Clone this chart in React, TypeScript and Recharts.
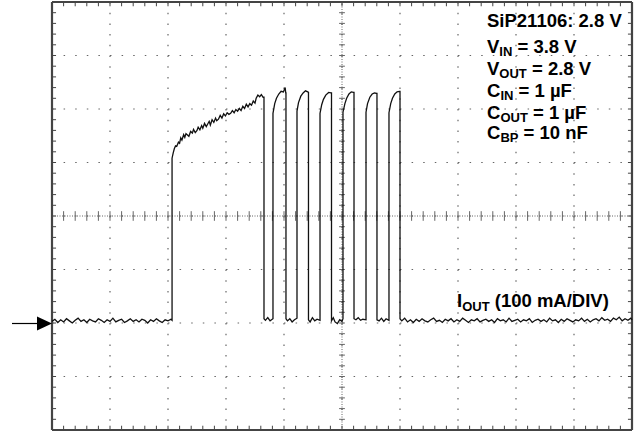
import React from 'react';
import { LineChart, Line, XAxis, YAxis, CartesianGrid, ReferenceLine } from 'recharts';

// time in scope divisions, current in mA (100 mA/div, 0 mA at the arrow)
const idleBefore: [number, number][] = [
  [0, 3], [0.05, 7], [0.1, 1], [0.15, 6], [0.2, 2], [0.25, 8], [0.3, 4], [0.35, 0], [0.4, 5], [0.45, 9],
  [0.5, 3], [0.55, 6], [0.6, 1], [0.65, 7], [0.7, 4], [0.75, 2], [0.8, 8], [0.85, 5], [0.9, 1], [0.95, 6],
  [1.0, 3], [1.05, 9], [1.1, 2], [1.15, 5], [1.2, 7], [1.25, 1], [1.3, 4], [1.35, 8], [1.4, 3], [1.45, 6],
  [1.5, 2], [1.55, 7], [1.6, 5], [1.65, 0], [1.7, 6], [1.75, 3], [1.8, 8], [1.85, 4], [1.9, 1], [1.95, 6],
  [2.0, 4], [2.05, 7], [2.07, 5],
];

const rampPulse: [number, number][] = [
  [2.07, 308], [2.09, 318], [2.11, 326], [2.13, 331], [2.15, 330], [2.18, 338], [2.2, 336], [2.22, 346],
  [2.24, 342], [2.27, 352], [2.29, 347], [2.31, 354], [2.34, 351], [2.36, 349], [2.39, 358], [2.42, 355],
  [2.44, 362], [2.47, 356], [2.5, 360], [2.52, 366], [2.55, 361], [2.58, 369], [2.6, 364], [2.63, 373],
  [2.66, 367], [2.68, 371], [2.71, 377], [2.73, 370], [2.76, 380], [2.79, 375], [2.82, 383], [2.84, 378],
  [2.87, 381], [2.9, 388], [2.93, 383], [2.96, 391], [2.99, 387], [3.02, 393], [3.05, 390], [3.08, 392],
  [3.11, 397], [3.14, 393], [3.17, 399], [3.2, 396], [3.23, 401], [3.26, 397], [3.29, 405], [3.32, 401],
  [3.35, 409], [3.38, 404], [3.41, 410], [3.44, 407], [3.47, 415], [3.5, 411], [3.52, 420], [3.55, 426],
  [3.58, 423], [3.61, 427], [3.64, 422], [3.655, 422], [3.655, 8],
];

const pulseTrain: [number, number][] = [
  [3.68, 5], [3.72, 10], [3.76, 4], [3.81, 8],
  [3.81, 392], [3.84, 410], [3.87, 420], [3.91, 428], [3.95, 433], [3.99, 432], [4.02, 440], [4.03, 430], [4.034, 430], [4.034, 8],
  [4.06, 4], [4.1, 8], [4.14, 2], [4.18, 6], [4.224, 9],
  [4.224, 396], [4.25, 412], [4.29, 424], [4.33, 430], [4.37, 434], [4.41, 432], [4.422, 431], [4.422, 6],
  [4.45, 2], [4.49, 10], [4.53, 4], [4.57, 7], [4.621, 5],
  [4.621, 392], [4.65, 408], [4.68, 418], [4.72, 426], [4.77, 431], [4.81, 430], [4.819, 430], [4.819, 4],
  [4.85, 10], [4.88, 2], [4.92, -1], [4.96, 6], [5.0, 3], [5.017, 8],
  [5.017, 394], [5.05, 410], [5.08, 420], [5.12, 428], [5.16, 432], [5.2, 431], [5.207, 431], [5.207, 8],
  [5.24, 6], [5.28, 10], [5.32, 5], [5.36, 7], [5.414, 6],
  [5.414, 394], [5.44, 410], [5.48, 422], [5.52, 428], [5.56, 430], [5.6, 429], [5.603, 429], [5.603, 6],
  [5.64, 4], [5.68, 9], [5.72, 3], [5.76, 8], [5.81, 5],
  [5.81, 393], [5.84, 410], [5.87, 420], [5.91, 428], [5.95, 432], [5.99, 433], [6.0, 433], [6.0, 8],
];

const idleAfter: [number, number][] = [
  [6.03, 4], [6.08, 9], [6.13, 2], [6.18, 6], [6.23, 1], [6.28, 7], [6.33, 3], [6.38, 8], [6.43, 4], [6.48, 2],
  [6.53, 6], [6.58, 9], [6.63, 3], [6.68, 5], [6.73, 1], [6.78, 7], [6.83, 4], [6.88, 8], [6.93, 2], [6.98, 6],
  [7.03, 3], [7.08, 9], [7.13, 5], [7.18, 1], [7.23, 6], [7.28, 4], [7.33, 8], [7.38, 2], [7.43, 5], [7.48, 7],
  [7.53, 3], [7.58, 6], [7.63, 1], [7.68, 8], [7.73, 4], [7.78, 6], [7.83, 2], [7.88, 9], [7.93, 3], [7.98, 5],
  [8.03, 7], [8.08, 2], [8.13, 6], [8.18, 4], [8.23, 8], [8.28, 1], [8.33, 5], [8.38, 7], [8.43, 3], [8.48, 6],
  [8.53, 2], [8.58, 9], [8.63, 4], [8.68, 6], [8.73, 1], [8.78, 7], [8.83, 3], [8.88, 8], [8.93, 5], [8.98, 2],
  [9.03, 6], [9.08, 4], [9.13, 9], [9.18, 3], [9.23, 7], [9.28, 2], [9.33, 6], [9.38, 8], [9.43, 4], [9.48, 10],
  [9.53, 5], [9.58, 7], [9.63, 3], [9.68, 9], [9.73, 6], [9.78, 11], [9.83, 4], [9.88, 8], [9.93, 5], [9.98, 9],
  [10, 6],
];

const majorX = [0, 1, 2, 3, 4, 5, 6, 7, 8, 9, 10];
const majorY = [-200, -100, 0, 100, 200, 300, 400, 500, 600];
const minorX = Array.from({ length: 51 }, (_, i) => i * 0.2);
const minorY = Array.from({ length: 41 }, (_, i) => -200 + i * 20);

const specLines = [
  { base: 'SiP21106: 2.8 V', sub: '', rest: '' },
  { base: 'V', sub: 'IN', rest: ' = 3.8 V' },
  { base: 'V', sub: 'OUT', rest: ' = 2.8 V' },
  { base: 'C', sub: 'IN', rest: ' = 1 µF' },
  { base: 'C', sub: 'OUT', rest: ' = 1 µF' },
  { base: 'C', sub: 'BP', rest: ' = 10 nF' },
];
const specBaselines = [27, 53, 75, 97, 119, 139];

const trace = [...idleBefore, ...rampPulse, ...pulseTrain, ...idleAfter].map(([t, i]) => ({ t, i }));

const BORDER = '#444';
const GRID = '#666';
const FONT = '"Liberation Sans", Arial, sans-serif';

export default function App() {
  return (
    <div style={{ position: 'absolute', left: 0, top: 0, width: 635, height: 432, background: '#fff' }}>
      <LineChart width={635} height={432} data={trace} margin={{ top: 2, right: 3, bottom: 2, left: 52 }}>
        <XAxis dataKey="t" type="number" domain={[0, 10]} ticks={majorX} hide />
        <YAxis type="number" domain={[-200, 600]} ticks={majorY} hide />
        <CartesianGrid horizontal={false} stroke={GRID} strokeWidth={1.2} strokeDasharray="1.5 9.2" />
        <CartesianGrid vertical={false} stroke={GRID} strokeWidth={1.2} strokeDasharray="1.5 10.1" />
        <ReferenceLine x={5} stroke={GRID} strokeDasharray="1 1.5" />
        <ReferenceLine y={200} stroke={GRID} strokeDasharray="1 1.5" />
        {minorY.map((v) => (
          <ReferenceLine key={'cy' + v} segment={[{ x: 4.95, y: v }, { x: 5.05, y: v }]} stroke={GRID} />
        ))}
        {minorX.map((v) => (
          <ReferenceLine key={'cx' + v} segment={[{ x: v, y: 191 }, { x: v, y: 209 }]} stroke={GRID} />
        ))}
        {/* frame ticks */}
        {minorX.map((v) => (
          <ReferenceLine key={'bt' + v} segment={[{ x: v, y: -200 }, { x: v, y: -192 }]} stroke={BORDER} />
        ))}
        {minorX.map((v) => (
          <ReferenceLine key={'tp' + v} segment={[{ x: v, y: 600 }, { x: v, y: 592 }]} stroke={BORDER} />
        ))}
        {minorY.map((v) => (
          <ReferenceLine key={'lf' + v} segment={[{ x: 0, y: v }, { x: 0.07, y: v }]} stroke={BORDER} />
        ))}
        {minorY.map((v) => (
          <ReferenceLine key={'rt' + v} segment={[{ x: 9.93, y: v }, { x: 10, y: v }]} stroke={BORDER} />
        ))}
        <ReferenceLine x={0} stroke={BORDER} strokeWidth={2.2} />
        <ReferenceLine x={10} stroke={BORDER} strokeWidth={2.2} />
        <ReferenceLine y={-200} stroke={BORDER} strokeWidth={2.2} />
        <ReferenceLine y={600} stroke={BORDER} strokeWidth={2.2} />
        <Line dataKey="i" type="linear" stroke="#111" strokeWidth={1.3} dot={false} isAnimationActive={false} />
      </LineChart>
      <svg width={635} height={432} style={{ position: 'absolute', left: 0, top: 0, pointerEvents: 'none' }}>
        <line x1={12} y1={323.5} x2={40} y2={323.5} stroke="#000" strokeWidth={1.2} />
        <polygon points="37,316.5 52,323.5 37,330.5" fill="#000" />
        <g fontFamily={FONT} fontWeight="bold" fontSize={18.5} fill="#000">
          {specLines.map((l, k) => (
            <text key={k} x={487} y={specBaselines[k]}>
              {l.base}
              {l.sub && <tspan fontSize={13} dy={2.5}>{l.sub}</tspan>}
              {l.rest && <tspan dy={l.sub ? -2.5 : 0}>{l.rest}</tspan>}
            </text>
          ))}
          <text x={457} y={307}>
            I<tspan fontSize={13} dy={3.5}>OUT</tspan>
            <tspan dy={-3.5}> (100 mA/DIV)</tspan>
          </text>
        </g>
      </svg>
    </div>
  );
}
